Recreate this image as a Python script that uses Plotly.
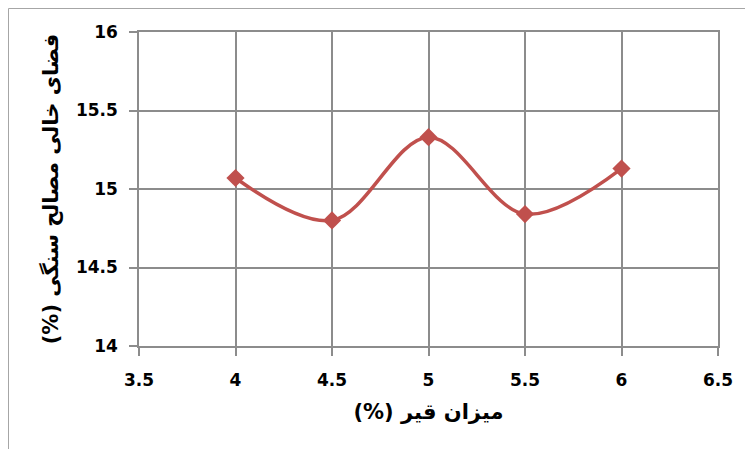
import plotly.graph_objects as go

# Bitumen content (%) and aggregate voids (%)
bitumen = [4, 4.5, 5, 5.5, 6]
voids = [15.07, 14.80, 15.33, 14.84, 15.13]

x_ticks = [3.5, 4, 4.5, 5, 5.5, 6, 6.5]
y_ticks = [14, 14.5, 15, 15.5, 16]

x_title = "\u202Bمیزان قیر (%)\u202C"
y_title = "\u202Bفضای خالی مصالح سنگی (%)\u202C"

line_color = "#C0504D"
grid_color = "#8C8C8C"
tick_font = dict(family="DejaVu Sans", size=17, color="#000000", weight="bold")
title_font = dict(family="DejaVu Sans", size=21, color="#000000", weight="bold")

fig = go.Figure()
fig.add_trace(go.Scatter(
    x=bitumen, y=voids,
    mode="lines+markers",
    line=dict(color=line_color, width=3.5, shape="spline", smoothing=1),
    marker=dict(symbol="diamond", size=14, color=line_color),
    showlegend=False,
))

axis_common = dict(
    showgrid=True, gridcolor=grid_color, gridwidth=1.5,
    showline=True, linecolor=grid_color, linewidth=1.5, mirror=True,
    ticks="outside", ticklen=8, tickwidth=1.5, tickcolor=grid_color,
    tickfont=tick_font, zeroline=False,
)

fig.update_xaxes(
    range=[3.5, 6.5], tickvals=x_ticks, ticktext=[f"{v:g}" for v in x_ticks],
    title=dict(text=x_title, font=title_font, standoff=15),
    ticklabelstandoff=10,
    **axis_common,
)
fig.update_yaxes(
    range=[14, 16], tickvals=y_ticks, ticktext=[f"{v:g}" for v in y_ticks],
    title=dict(text=y_title, font=title_font, standoff=12),
    ticklabelstandoff=8,
    **axis_common,
)

# Outer chart frame (left and top edges)
pw, ph = 745 - 139 - 27, 449 - 32 - 103
fx = (8.5 - 139) / pw
fy = 1 + (32 - 8.5) / ph
fig.add_shape(type="line", xref="paper", yref="paper", x0=fx, x1=fx, y0=-1, y1=fy,
              line=dict(color="#A6A6A6", width=1))
fig.add_shape(type="line", xref="paper", yref="paper", x0=fx, x1=2, y0=fy, y1=fy,
              line=dict(color="#A6A6A6", width=1))

fig.update_layout(
    width=745, height=449,
    margin=dict(l=139, r=27, t=32, b=103),
    plot_bgcolor="white", paper_bgcolor="white",
)

fig.write_html("out.html")
